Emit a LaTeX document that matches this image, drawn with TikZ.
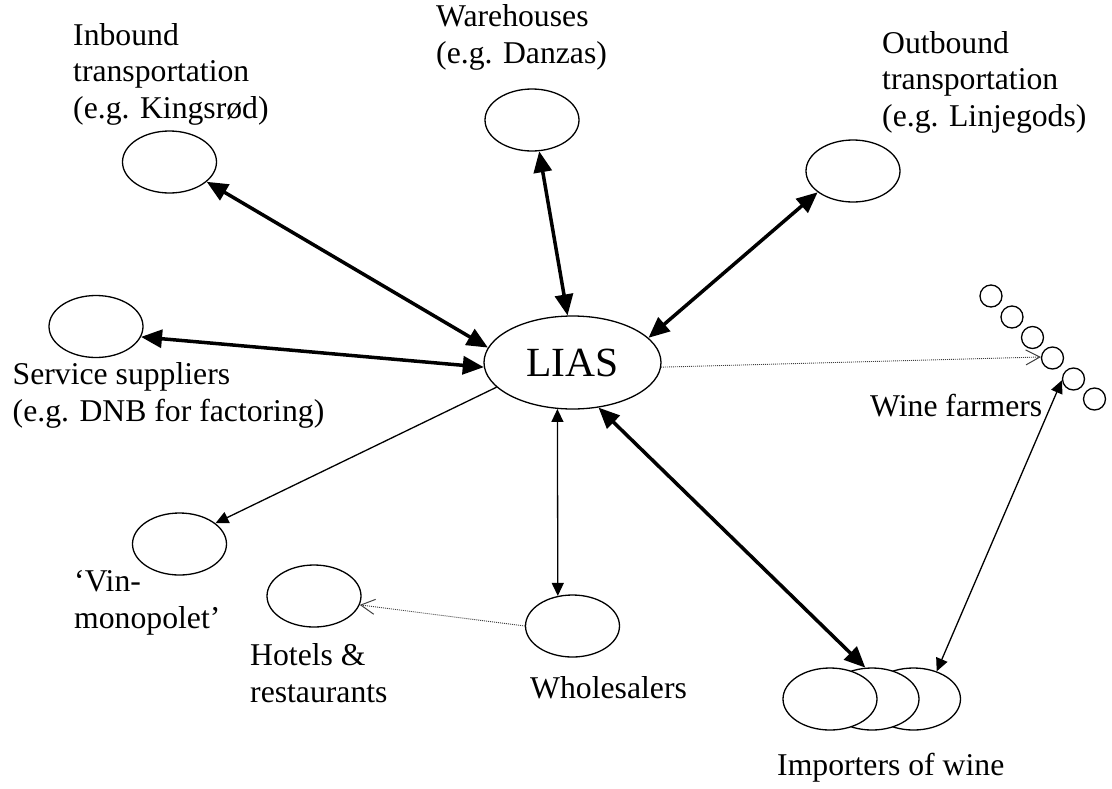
\documentclass[tikz,border=0pt]{standalone}
\usepackage{fontspec}
\setmainfont{Liberation Serif}
\usetikzlibrary{arrows.meta,shapes.geometric}
\begin{document}
\begin{tikzpicture}[x=1pt,y=-1pt,
  ell/.style={draw, ellipse, line width=1.3pt, minimum width=94pt, minimum height=62pt, inner sep=0pt, fill=white},
  farm/.style={draw, circle, line width=1.3pt, minimum size=22pt, inner sep=0pt},
  lbl/.style={font=\fontsize{31.7}{36.5}\selectfont, align=left, inner sep=0pt, anchor=base west},
  bigarrow/.style={line width=3.5pt, {Triangle[length=21pt,width=18pt]}-{Triangle[length=21pt,width=18pt]}},
  thinboth/.style={line width=1.3pt, {Triangle[length=13pt,width=12pt]}-{Triangle[length=13pt,width=12pt]}},
  thinone/.style={line width=1.3pt, -{Triangle[length=13pt,width=12pt]}},
  dotarrow/.style={line width=0.9pt, black!75, dash pattern=on 1pt off 1pt, -{Straight Barb[length=14pt,width=15pt,line width=1pt]}}
]
\useasboundingbox (0,0) rectangle (1112,788);
% nodes
\node[ell, minimum width=177pt, minimum height=93pt, font=\fontsize{41.5}{45}\selectfont] (lias) at (572.5,362.5) {LIAS};
\node[ell] (inb) at (169.5,162) {};
\node[ell] (war) at (532,120) {};
\node[ell] (out) at (853,171) {};
\node[ell] (ser) at (96,326.5) {};
\node[ell] (vin) at (179.5,544) {};
\node[ell] (hot) at (314,596) {};
\node[ell] (who) at (572.5,626) {};
\node[ell] (imp3) at (913.5,699) {};
\node[ell] (imp2) at (872,699) {};
\node[ell] (imp1) at (830,699) {};
\node[farm] (f1) at (991,296) {};
\node[farm] (f2) at (1012,317) {};
\node[farm] (f3) at (1032.5,337.5) {};
\node[farm] (f4) at (1052.5,358) {};
\node[farm] (f5) at (1073.5,379) {};
\node[farm] (f6) at (1094.5,399) {};
% labels (anchor = baseline of the last line)
\node[lbl] (tinb) at (73,118) {Inbound\\transportation\\(e.g. Kingsrød)};
\node[lbl] (twar) at (436,63) {Warehouses\\(e.g. Danzas)};
\node[lbl] (tout) at (882,126) {Outbound\\transportation\\(e.g. Linjegods)};
\node[lbl] (tser) at (12.5,421) {Service suppliers\\(e.g. DNB for factoring)};
\node[lbl] (tfar) at (870,416) {Wine farmers};
\node[lbl] (tvin) at (74,628) {‘Vin-\\monopolet’};
\node[lbl] (thot) at (250,702) {Hotels \&\\restaurants};
\node[lbl] (twho) at (530,698) {Wholesalers};
\node[lbl] (timp) at (777,775) {Importers of wine};
% connectors
\draw[bigarrow] (inb.-28.7) -- (lias.170);
\draw[bigarrow] (ser.-13.6) -- (lias.183.6);
\draw[bigarrow] (war.-77.7) -- (lias.96.6);
\draw[bigarrow] (out.211.5) -- (lias.18.6);
\draw[bigarrow] (imp2.102) -- (lias.-60);
\draw[thinboth] (who.116.6) -- (lias.-108);
\draw[thinone] (lias.198.9) -- (vin.30.4);
\draw[dotarrow] (lias.-3.5) -- (f4.175);
\draw[dotarrow] (who.180) -- (hot.-11);
\draw[thinboth] (imp3.50.4) -- (f5.186);
\end{tikzpicture}
\end{document}
